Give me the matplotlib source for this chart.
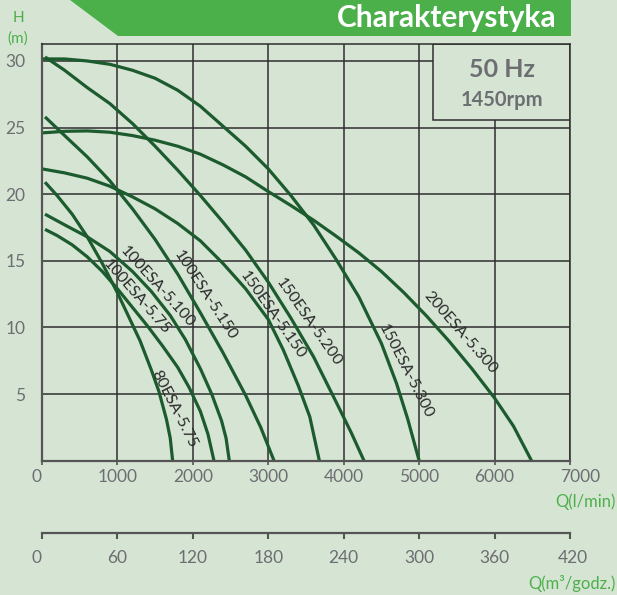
import matplotlib
matplotlib.use("Agg")
import matplotlib.pyplot as plt
from matplotlib.patches import Polygon, Rectangle
from matplotlib.transforms import ScaledTranslation

plt.rcParams['font.family'] = ['Lato', 'DejaVu Sans']

# ---------------- data ----------------
x_ticks_lmin = [0, 1000, 2000, 3000, 4000, 5000, 6000, 7000]
x_ticks_m3h = [0, 60, 120, 180, 240, 300, 360, 420]
y_ticks = [5, 10, 15, 20, 25, 30]

q_80_75 = [40, 200, 400, 600, 800, 1000, 1150, 1300, 1450, 1550, 1650, 1700, 1732]
h_80_75 = [20.9, 19.9, 18.5, 16.8, 14.8, 12.6, 10.8, 9.0, 6.8, 5.2, 3.1, 1.7, 0]

q_100_75 = [40, 200, 400, 600, 800, 1000, 1200, 1400, 1600, 1800, 1950, 2100, 2200, 2280]
h_100_75 = [17.36, 16.9, 16.2, 15.3, 14.2, 12.9, 11.5, 10.1, 8.6, 7.0, 5.5, 3.7, 2.0, 0]

q_100_100 = [40, 300, 600, 900, 1200, 1450, 1700, 1900, 2100, 2250, 2380, 2440, 2483]
h_100_100 = [18.5, 17.7, 16.8, 15.7, 14.2, 12.7, 10.9, 9.1, 6.9, 5.0, 3.0, 1.7, 0]

q_100_150 = [40, 300, 600, 900, 1200, 1500, 1800, 2100, 2400, 2700, 2900, 3076]
h_100_150 = [25.8, 24.4, 22.8, 21.0, 18.9, 16.6, 14.0, 11.1, 8.1, 4.9, 2.5, 0]

q_150_150 = [0, 300, 600, 900, 1200, 1500, 1800, 2100, 2400, 2700, 3000, 3200, 3400, 3550, 3677]
h_150_150 = [21.9, 21.6, 21.2, 20.6, 19.8, 18.9, 17.8, 16.5, 14.8, 12.9, 10.6, 8.3, 5.6, 3.3, 0]

q_150_200 = [40, 300, 600, 900, 1200, 1500, 1800, 2100, 2400, 2700, 3000, 3300, 3600, 3900, 4100, 4269]
h_150_200 = [30.3, 29.3, 28.0, 26.8, 25.3, 23.6, 21.8, 19.9, 17.9, 15.8, 13.4, 10.7, 7.8, 4.4, 2.1, 0]

q_150_300 = [0, 300, 600, 900, 1200, 1500, 1800, 2100, 2400, 2700, 3000, 3300, 3600, 3900,
             4200, 4500, 4700, 4850, 5000]
h_150_300 = [30.15, 30.15, 30.0, 29.75, 29.3, 28.7, 27.8, 26.6, 25.1, 23.6, 21.9, 19.9, 17.7, 15.1,
             12.3, 8.8, 5.8, 3.1, 0]

q_200_300 = [0, 300, 600, 900, 1200, 1500, 1800, 2100, 2400, 2700, 3000, 3300, 3600, 3900,
             4200, 4500, 4800, 5100, 5400, 5700, 6000, 6250, 6490]
h_200_300 = [24.6, 24.72, 24.75, 24.65, 24.4, 24.05, 23.6, 23.0, 22.2, 21.3, 20.2, 19.15, 18.05, 16.85,
             15.6, 14.2, 12.6, 10.85, 8.95, 6.9, 4.7, 2.6, 0]

curve_names = ["80ESA-5.75", "100ESA-5.75", "100ESA-5.100", "100ESA-5.150",
               "150ESA-5.150", "150ESA-5.200", "150ESA-5.300", "200ESA-5.300"]
curve_q = [q_80_75, q_100_75, q_100_100, q_100_150, q_150_150, q_150_200, q_150_300, q_200_300]
curve_h = [h_80_75, h_100_75, h_100_100, h_100_150, h_150_150, h_150_200, h_150_300, h_200_300]

# label placement (Q, H, rotation)
label_pos = [(1750, 3.9, -63), (1255, 12.26, -49), (1529, 13.05, -48), (2161, 12.38, -57),
             (3062, 10.93, -55), (3540, 10.4, -55), (4822, 6.68, -63), (5541, 9.65, -49)]

# ---------------- style ----------------
BG = '#d6e4d4'
GREEN = '#4cb04a'
CURVE = '#1c5b2e'
GRAY = '#6d6e71'
GRID = '#2e2e2e'

W, H = 617, 595
fig = plt.figure(figsize=(W / 100, H / 100), dpi=100, facecolor=BG)

def fx(px):
    return px / W

def fy(py):
    return 1 - py / H

# title bar
bar = Polygon([(fx(70), fy(0)), (fx(571), fy(0)), (fx(571), fy(36)), (fx(118), fy(36))],
              closed=True, transform=fig.transFigure, facecolor=GREEN, edgecolor='none')
fig.patches.append(bar)
fig.text(fx(557), fy(18), "Charakterystyka", color='white', fontsize=21.5, fontweight='bold',
         ha='right', va='center')

# axis unit labels
fig.text(fx(18), fy(18), "H", color=GREEN, fontsize=11, ha='center', va='center')
fig.text(fx(18), fy(39), "(m)", color=GREEN, fontsize=11, ha='center', va='center')

# main axes
ax = fig.add_axes([fx(42), fy(460.7), fx(570) - fx(42), fy(44.3) - fy(460.7)])
ax.set_facecolor(BG)
ax.set_xlim(0, 7000)
ax.set_ylim(0, 31.25)
ax.set_xticks(x_ticks_lmin)
ax.set_yticks(y_ticks)
ax.set_xticklabels([str(v) for v in x_ticks_lmin])
ax.set_yticklabels([str(v) for v in y_ticks])
ax.grid(True, color=GRID, lw=1.1, zorder=1)
ax.set_axisbelow(True)
for s in ['top', 'right']:
    ax.spines[s].set_color(GRID)
    ax.spines[s].set_linewidth(1.1)
for s in ['left', 'bottom']:
    ax.spines[s].set_color('#555555')
    ax.spines[s].set_linewidth(1.6)
ax.tick_params(axis='y', length=0, pad=12, labelsize=12.5, labelcolor=GRAY)
ax.tick_params(axis='x', length=3, width=1.2, color='#555555', pad=3, labelsize=12.5, labelcolor=GRAY)
xl = ax.get_xticklabels()
xl[0].set_transform(xl[0].get_transform() + ScaledTranslation(-5 / 100, 0, fig.dpi_scale_trans))
xl[-1].set_transform(xl[-1].get_transform() + ScaledTranslation(10 / 100, 0, fig.dpi_scale_trans))

# 50 Hz box
box = Rectangle((5184, 25.56), 7000 - 5184, 31.25 - 25.56, facecolor=BG, edgecolor=GRID,
                lw=1.1, zorder=1.8)
ax.add_patch(box)
ax.text((5184 + 7000) / 2, 29.35, "50 Hz", color=GRAY, fontsize=18, fontweight='bold',
        ha='center', va='center', zorder=3)
ax.text((5184 + 7000) / 2, 27.1, "1450rpm", color=GRAY, fontsize=14.5, fontweight='bold',
        ha='center', va='center', zorder=3)

# curves
for q, h in zip(curve_q, curve_h):
    ax.plot(q, h, color=CURVE, lw=2.3, solid_capstyle='butt', solid_joinstyle='round',
            zorder=2.5, clip_on=False)

for name, (lq, lh, rot) in zip(curve_names, label_pos):
    ax.text(lq, lh, name, fontsize=11.5, color='#2a2a2a', rotation=rot,
            rotation_mode='anchor', ha='center', va='center', zorder=3)

fig.text(fx(616), fy(501.7), "Q(l/min)", color=GREEN, fontsize=12, ha='right', va='center')

# second axis (m3/h)
ax2 = fig.add_axes([fx(42), fy(533), fx(570) - fx(42), 0.0001])
ax2.set_facecolor('none')
ax2.set_xlim(0, 420)
ax2.set_ylim(0, 1)
ax2.set_yticks([])
ax2.set_xticks(x_ticks_m3h)
ax2.set_xticklabels([str(v) for v in x_ticks_m3h])
for s in ['top', 'left', 'right']:
    ax2.spines[s].set_visible(False)
ax2.spines['bottom'].set_color('#555555')
ax2.spines['bottom'].set_linewidth(1.6)
ax2.tick_params(axis='x', length=4, width=1.5, color='#555555', pad=8, labelsize=12.5, labelcolor=GRAY)
xl2 = ax2.get_xticklabels()
xl2[0].set_transform(xl2[0].get_transform() + ScaledTranslation(-5 / 100, 0, fig.dpi_scale_trans))
xl2[-1].set_transform(xl2[-1].get_transform() + ScaledTranslation(3 / 100, 0, fig.dpi_scale_trans))

fig.text(fx(616), fy(583), "Q(m³/godz.)", color=GREEN, fontsize=12, ha='right', va='center')

fig.savefig("out.png", dpi=100, facecolor=BG)
